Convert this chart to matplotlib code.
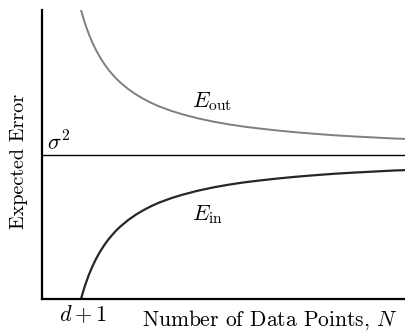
import matplotlib
matplotlib.use("Agg")
import matplotlib.pyplot as plt

plt.rcParams["mathtext.fontset"] = "cm"
plt.rcParams["font.family"] = "cmr10"
plt.rcParams["axes.unicode_minus"] = False

# Number of data points in units of (d+1); noise level sigma^2 = 1
n_points = [1.0, 1.05, 1.1, 1.15, 1.2, 1.3, 1.4, 1.5, 1.6, 1.7, 1.8, 1.9, 2.0,
            2.2, 2.4, 2.6, 2.8, 3.0, 3.3, 3.6, 4.0, 4.4, 4.8, 5.2, 5.6, 6.0,
            6.5, 7.0, 7.5, 8.0, 8.5, 9.0, 9.3]
e_out = [2.0, 1.952, 1.909, 1.870, 1.833, 1.769, 1.714, 1.667, 1.625, 1.588,
         1.556, 1.526, 1.5, 1.455, 1.417, 1.385, 1.357, 1.333, 1.303, 1.278,
         1.25, 1.227, 1.208, 1.192, 1.179, 1.167, 1.154, 1.143, 1.133, 1.125,
         1.118, 1.111, 1.108]
e_in = [0.0, 0.048, 0.091, 0.130, 0.167, 0.231, 0.286, 0.333, 0.375, 0.412,
        0.444, 0.474, 0.5, 0.545, 0.583, 0.615, 0.643, 0.667, 0.697, 0.722,
        0.75, 0.773, 0.792, 0.808, 0.821, 0.833, 0.846, 0.857, 0.867, 0.875,
        0.882, 0.889, 0.892]
sigma2 = 1.0
n_min = 1.0

fig = plt.figure(figsize=(4.05, 3.33), dpi=100)
ax = fig.add_axes([0.1037, 0.102, 0.8963, 0.868])

ax.plot(n_points, e_out, color="#7f7f7f", lw=1.4, solid_capstyle="butt")
ax.plot(n_points, e_in, color="#262626", lw=1.6, solid_capstyle="butt")
ax.axhline(sigma2, color="black", lw=1.0)

ax.set_xlim(0, 9.3)
ax.set_ylim(0, 2.0)
ax.set_xticks([])
ax.set_yticks([])
for side in ("top", "right"):
    ax.spines[side].set_visible(False)
for side in ("left", "bottom"):
    ax.spines[side].set_linewidth(1.6)

ax.text(0.12, sigma2 + 0.005, r"$\sigma^2$", fontsize=16, ha="left", va="bottom")
ax.text(3.85, 1.33, r"$E_{\mathrm{out}}$", fontsize=16, ha="left", va="baseline")
ax.text(3.85, 0.545, r"$E_{\mathrm{in}}$", fontsize=16, ha="left", va="baseline")
ax.text(n_min + 0.05, -0.03, r"$d+1$", fontsize=16, ha="center", va="top")

fig.text(0.982, 0.022, r"Number of Data Points, $N$", fontsize=15.5,
         ha="right", va="baseline")
fig.text(0.048, 0.515, "Expected Error", fontsize=14.5, rotation=90, ha="center", va="center")

fig.savefig("out.png", dpi=100)
